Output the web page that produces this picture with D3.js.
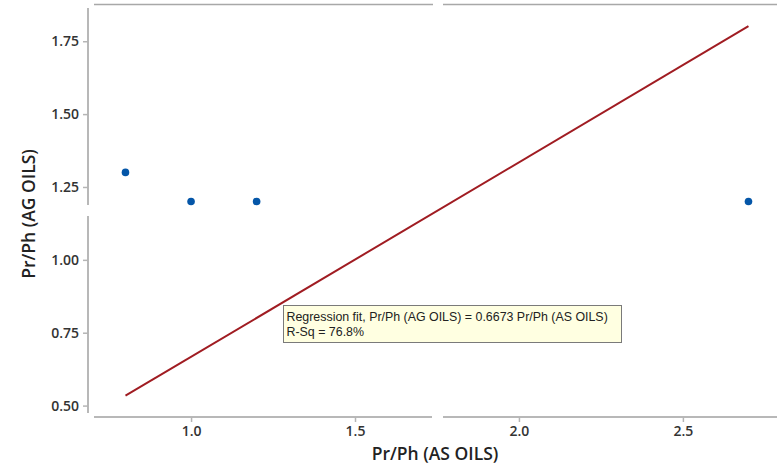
<!DOCTYPE html>
<html>
<head>
<meta charset="utf-8">
<script src="https://cdn.jsdelivr.net/npm/d3@7"></script>
<style>
  body { margin: 0; background: #fff; }
  .tick text { font-family: "Open Sans", sans-serif; font-size: 14px; font-weight: 600; fill: #333; }
  .tick line { stroke: #b5b5b5; stroke-width: 1.5; }
  .frame { stroke: #b8b8b8; stroke-width: 2; fill: none; }
  .frametop { stroke: #a8a8a8; stroke-width: 1.5; fill: none; }
  .title { font-family: "Open Sans", sans-serif; font-size: 17.5px; font-weight: 600; fill: #222; }
  .tip { font-family: "Liberation Sans", sans-serif; font-size: 12.4px; fill: #222; }
</style>
</head>
<body>
<div class="chart"></div>
<script>
let asOils = [0.8, 1.0, 1.2, 2.7];
let agOils = [1.3, 1.2, 1.2, 1.2];
let slope = 0.6673;
let fitRange = [0.8, 2.7];
let xTicks = [1.0, 1.5, 2.0, 2.5];
let yTicks = [0.5, 0.75, 1.0, 1.25, 1.5, 1.75];
let tipLines = ["Regression fit, Pr/Ph (AG OILS) = 0.6673 Pr/Ph (AS OILS)", "R-Sq = 76.8%"];

let width = 777;
let height = 470;

let svg = d3.select(".chart")
  .append("svg")
  .attr("width", width)
  .attr("height", height);

let x = d3.scaleLinear().domain([0.704, 2.787]).range([94, 777]);
let y = d3.scaleLinear().domain([0.478, 1.864]).range([412, 8]);

// frame pieces, Minitab style with small breaks
let frameLeft = 88, frameBottom = 417, frameTop = 4.5;
svg.append("line").attr("class", "frame")
  .attr("x1", frameLeft).attr("x2", frameLeft).attr("y1", 8).attr("y2", 205);
svg.append("line").attr("class", "frame")
  .attr("x1", frameLeft).attr("x2", frameLeft).attr("y1", 216).attr("y2", 413);
svg.append("line").attr("class", "frame")
  .attr("x1", 94).attr("x2", 432).attr("y1", frameBottom).attr("y2", frameBottom);
svg.append("line").attr("class", "frame")
  .attr("x1", 443).attr("x2", 777).attr("y1", frameBottom).attr("y2", frameBottom);
svg.append("line").attr("class", "frametop")
  .attr("x1", 94).attr("x2", 433).attr("y1", frameTop).attr("y2", frameTop);
svg.append("line").attr("class", "frametop")
  .attr("x1", 443).attr("x2", 777).attr("y1", frameTop).attr("y2", frameTop);

let xAxis = svg.append("g")
  .attr("transform", "translate(0," + frameBottom + ")")
  .call(d3.axisBottom(x).tickValues(xTicks).tickFormat(d3.format(".1f")).tickSize(5).tickPadding(4));
xAxis.select(".domain").remove();

let yAxis = svg.append("g")
  .attr("transform", "translate(" + frameLeft + ",0)")
  .call(d3.axisLeft(y).tickValues(yTicks).tickFormat(d3.format(".2f")).tickSize(5).tickPadding(4));
yAxis.select(".domain").remove();

svg.append("text").attr("class", "title")
  .attr("x", 435).attr("y", 459.5)
  .attr("text-anchor", "middle")
  .text("Pr/Ph (AS OILS)");

svg.append("text").attr("class", "title")
  .attr("transform", "translate(34.5,214) rotate(-90)")
  .attr("text-anchor", "middle")
  .text("Pr/Ph (AG OILS)");

// regression fit line
let fitLine = d3.line()
  .x(function(d) { return x(d); })
  .y(function(d) { return y(slope * d); });

svg.append("path")
  .datum(fitRange)
  .attr("d", fitLine)
  .attr("fill", "none")
  .attr("stroke", "#a01c22")
  .attr("stroke-width", 2);

svg.selectAll(".pt")
  .data(asOils)
  .enter()
  .append("circle")
  .attr("class", "pt")
  .attr("cx", function(d) { return x(d); })
  .attr("cy", function(d, i) { return y(agOils[i]); })
  .attr("r", 3.8)
  .attr("fill", "#0456a8");

// hover tip box
let tip = svg.append("g").attr("transform", "translate(283.5,305.5)");
tip.append("rect")
  .attr("width", 338)
  .attr("height", 37)
  .attr("fill", "#ffffe1")
  .attr("stroke", "#7a7a7a")
  .attr("stroke-width", 1);
tip.selectAll("text")
  .data(tipLines)
  .enter()
  .append("text")
  .attr("class", "tip")
  .attr("x", 3)
  .attr("y", function(d, i) { return 15.5 + i * 15; })
  .text(function(d) { return d; });
</script>
</body>
</html>
